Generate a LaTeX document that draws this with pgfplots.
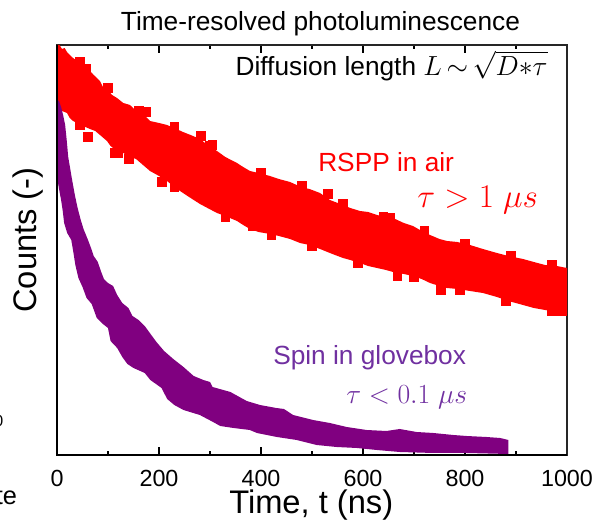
\documentclass[border=0pt]{standalone}
\usepackage{fontspec}
\setmainfont{Liberation Sans}
\usepackage{pgfplots}
\pgfplotsset{compat=1.18}
\usepgfplotslibrary{fillbetween}
\definecolor{pl}{RGB}{128,0,128}
\definecolor{pltext}{RGB}{112,48,160}
\begin{document}
\begin{tikzpicture}
\begin{axis}[
  at={(42.75pt,48.75pt)}, anchor=south west,
  scale only axis, width=382.5pt, height=307.5pt,
  xmin=0, xmax=1000, ymin=0, ymax=410,
  xtick={0,200,...,1000}, minor x tick num=1,
  ytick=\empty,
  tick align=inside,
  major tick length=5.8pt, minor tick length=3pt,
  tick style={black, line width=0.8pt},
  axis line style={black!85, line width=1pt},
  /pgf/number format/1000 sep={},
  /pgf/number format/assume math mode=true,
  xticklabel style={font=\fontsize{17.5}{20}\selectfont, anchor=base, inner sep=0pt, yshift=-23.8pt},
]
% RSPP in air: upper and lower edge of the scatter band
\addplot[draw=none, mark=none, name path=RU, forget plot] coordinates {
(0,410)(5,410)(9.8,406)(15,407)(19.6,403)(25,400)(31.4,397)(40,394)(51,389)(58,390)(64.7,384)(72,380)(84.3,374)(90,368)(98,366)(108,360)(117.6,357)(130,352)(143.1,350)(155,344)(168.6,340)(175,338)(182.4,334)(200,332)(215.7,330)(230,327)(247,323)(262,320)(280.4,316)(295,310)(313.7,304)(330,298)(352.9,292)(365,288)(378.4,284)(395,282)(417.6,279)(435,276)(456.9,273)(470,270)(476.5,268)(495,266)(515.7,262)(535,255)(560.8,250)(575,247)(594.1,244)(610,243)(627.5,240)(645,238)(658.8,237)(680,232)(698,229)(715,224)(731.4,220)(750,216)(764.7,214)(785,213)(809.8,210)(835,206)(862.7,202)(885,199)(913.7,196)(935,193)(956.9,190)(980,189)(1000,187)
};
\addplot[draw=none, mark=none, name path=RL, forget plot] coordinates {
(0,350)(5,347)(9.8,344)(19.6,342)(25,337)(31.4,334)(40,332)(51,329)(64.7,326)(75,324)(84.3,320)(98,314)(105,309)(117.6,304)(130,302)(143.1,298)(155,296)(168.6,290)(182.4,284)(200,279)(215.7,274)(230,268)(247,262)(265,256)(280.4,251)(295,247)(313.7,242)(330,239)(352.9,234)(365,230)(378.4,226)(395,223)(417.6,221)(435,219)(456.9,216)(476.5,212)(495,210)(515.7,206)(540,201)(560.8,197)(575,195)(594.1,192)(610,189)(627.5,187)(645,185)(658.8,183)(680,181)(698,179)(715,176)(731.4,172)(750,169)(764.7,167)(785,166)(809.8,164)(835,162)(862.7,158)(885,154)(913.7,150)(935,147)(956.9,145)(980,143)(1000,141)
};
\addplot[red, forget plot] fill between[of=RU and RL];
% points that stand out of the band
\addplot[only marks, mark=square*, mark size=3.2pt, red, forget plot] coordinates {
(56.9,386)(60.8,318)(174.5,343)(282.4,319)(304,310)(205.9,273)(141.2,296)(113,302)(531,261)(384,229)(752,165)(667,179)(990,144)(653,237)
(45,393)(100,367)(160,344)(230,328)(300,309)(400,282)(480,269)(560,251)(640,238)(720,224)(800,211)(890,199)(970,190)
(45,330)(120,302)(230,268)(330,238)(420,220)(500,209)(590,192)(700,178)(790,165)(880,154)(970,144)
};
% Spin in glovebox
\addplot[draw=none, mark=none, name path=PU, forget plot] coordinates {
(0,355)(4,354)(8,348)(12,340)(16,330)(19,315)(22,298)(26,286)(30,274)(35,260)(40,248)(46,236)(52,226)(60,216)(66,208)(72,199)(80,193)(86,184)(92,176)(100,172)(110,169)(118,160)(128,152)(140,147)(148,139)(160,135)(172,129)(182,122)(195,113)(210,104)(228,96)(248,88)(268,79)(287,75)(300,73)(305,68)(340,63)(372,54)(398,50)(430,47)(445,46)(463,40)(502,35)(535,32)(568,28)(607,25)(646,24)(672,26)(705,23)(738,22)(777,20)(803,19)(842,18)(869,17)(885,15)
};
\addplot[draw=none, mark=none, name path=PL, forget plot] coordinates {
(0,353)(0.5,300)(1,275)(4,266)(8,255)(11,245)(14,232)(20,222)(28,215)(32,203)(36,190)(42,177)(50,168)(58,157)(68,151)(78,137)(90,131)(100,127)(105,114)(118,107)(128,98)(138,91)(150,87)(172,82)(183,75)(205,67)(216,56)(230,50)(248,45)(280,40)(306,33)(320,29)(346,27)(378,25)(392,22)(431,18)(470,15)(509,10)(548,8)(588,7)(627,5)(672,3)(738,2)(803,2)(885,1)
};
\addplot[pl, forget plot] fill between[of=PU and PL];
\end{axis}
\draw[black, line width=1.6pt] (42.75pt,307.5pt+48.75pt) -- (42.75pt,48.75pt) -- (42.75pt+382.5pt,48.75pt);
\node[anchor=base west, inner sep=0pt, font=\fontsize{19.7}{22}\selectfont] at (90.5pt,367pt) {Time-resolved photoluminescence};
\node[anchor=base west, inner sep=0pt, font=\fontsize{19.7}{22}\selectfont] at (176.5pt,333pt) {Diffusion length $L\,{\sim}\,\sqrt{D{\ast}\tau}$};
\node[anchor=base west, inner sep=0pt, red, font=\fontsize{19.7}{22}\selectfont] at (238.5pt,261.2pt) {RSPP in air};
\node[anchor=base west, inner sep=0pt, red, font=\fontsize{23.5}{26}\selectfont] at (312.75pt,234pt) {$\tau > 1\;\mu s$};
\node[anchor=base west, inner sep=0pt, pltext, font=\fontsize{19.7}{22}\selectfont] at (204.75pt,116.25pt) {Spin in glovebox};
\node[anchor=base west, inner sep=0pt, pltext, font=\fontsize{22}{24}\selectfont] at (259.5pt,87pt) {$\tau < 0.1\;\mu s$};
\node[anchor=base west, inner sep=0pt, font=\fontsize{24.5}{28}\selectfont] at (171.75pt,4.6pt) {Time, t (ns)};
\node[anchor=base, inner sep=0pt, rotate=90, font=\fontsize{24.5}{28}\selectfont] at (27pt,210pt) {Counts (-)};
\node[anchor=base east, inner sep=0pt, font=\fontsize{19}{22}\selectfont] at (13pt,11.25pt) {te};
\node[anchor=base east, inner sep=0pt, font=\fontsize{12}{14}\selectfont] at (2.6pt,69.75pt) {0};
\pgfresetboundingbox
\path[use as bounding box] (0,0) rectangle (447.75pt,390pt);
\end{tikzpicture}
\end{document}
